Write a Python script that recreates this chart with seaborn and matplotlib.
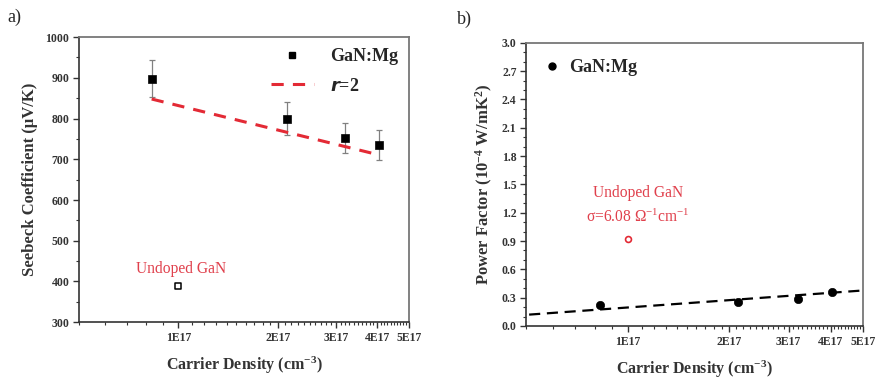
import numpy as np
import pandas as pd
import seaborn as sns
import matplotlib.pyplot as plt
from matplotlib.ticker import FixedLocator, MultipleLocator, NullFormatter
from matplotlib.lines import Line2D

# data
density = [8.3e16, 2.13e17, 3.2e17, 4.05e17]
seebeck = [898, 800, 753, 735]
seebeck_err = [46, 41, 37, 37]
power_factor = [0.22, 0.255, 0.285, 0.355]

undoped_density = [1.0e17]
undoped_seebeck = [390]
undoped_pf = [0.92]

fit_a_x = [8.3e16, 3.95e17]
fit_a_y = [848, 713]
fit_b_x = [5.1e16, 4.95e17]
fit_b_y = [0.12, 0.375]

x_ticks = [1e17, 2e17, 3e17, 4e17, 5e17]
x_tick_labels = ["1E17", "2E17", "3E17", "4E17", "5E17"]

RED = "#e32a35"
TEXT_RED = "#e0404c"

sns.set_style("ticks")
plt.rcParams["font.family"] = ["Liberation Serif", "DejaVu Serif"]
plt.rcParams["font.weight"] = "bold"
plt.rcParams["axes.labelweight"] = "bold"
plt.rcParams["mathtext.default"] = "regular"
plt.rcParams["xtick.direction"] = "out"
plt.rcParams["ytick.direction"] = "out"

df = pd.DataFrame({"density": density, "seebeck": seebeck, "pf": power_factor})
fit_a = pd.DataFrame({"x": fit_a_x, "y": fit_a_y})
fit_b = pd.DataFrame({"x": fit_b_x, "y": fit_b_y})

fig = plt.figure(figsize=(8.8, 3.79), dpi=100)
ax_a = fig.add_axes([0.0898, 0.150, 0.375, 0.752])
ax_b = fig.add_axes([0.598, 0.140, 0.383, 0.747])


def style_axes(ax):
    ax.set_xscale("log")
    ax.set_xlim(5e16, 5e17)
    ax.xaxis.set_major_locator(FixedLocator(x_ticks))
    ax.set_xticklabels(x_tick_labels)
    ax.xaxis.set_minor_locator(FixedLocator(np.arange(5, 51) * 1e16))
    ax.xaxis.set_minor_formatter(NullFormatter())
    for side in ["left", "bottom"]:
        ax.spines[side].set_color("#333333")
        ax.spines[side].set_linewidth(1.2)
    for side in ["top", "right"]:
        ax.spines[side].set_color("#777777")
        ax.spines[side].set_linewidth(1.3)
    ax.tick_params(which="major", length=4, width=1, color="#333333",
                   labelsize=8.5, labelcolor="#333333", pad=3)
    ax.tick_params(which="minor", length=2.5, width=0.8, color="#333333")
    ax.set_xlabel("Carrier Density (cm$^{-3}$)", fontsize=11.5,
                  fontweight="bold", color="#333333", labelpad=8)


# panel a
ax_a.errorbar(density, seebeck, yerr=seebeck_err, fmt="none",
              ecolor="#808080", elinewidth=0.9, capsize=2, capthick=0.9)
sns.lineplot(data=fit_a, x="x", y="y", ax=ax_a, color=RED, lw=2.2,
             dashes=False, linestyle=(0, (4, 3)))
sns.scatterplot(data=df, x="density", y="seebeck", ax=ax_a, marker="s",
                s=36, color="black", edgecolor="black", zorder=5)
ax_a.scatter(undoped_density, undoped_seebeck, marker="s", s=14,
             facecolor="white", edgecolor="black", linewidth=1.1, zorder=5)
ax_a.text(1.02e17, 430, "Undoped GaN", color=TEXT_RED, fontsize=11.2,
          fontweight="normal", ha="center", va="center")

ax_a.set_ylim(300, 1000)
ax_a.yaxis.set_major_locator(MultipleLocator(100))
ax_a.yaxis.set_minor_locator(MultipleLocator(50))
style_axes(ax_a)
ax_a.set_ylabel("Seebeck Coefficient (μV/K)", fontsize=12,
                fontweight="bold", color="#333333", labelpad=5)

handles_a = [
    Line2D([], [], marker="s", color="black", linestyle="none", markersize=5),
    Line2D([], [], color=RED, lw=2.2, linestyle=(0, (4, 3))),
]
ax_a.legend(handles_a, ["GaN:Mg", "$\\it{r}$=2"], loc="upper right",
            frameon=False, handlelength=2.4, handletextpad=0.9,
            labelspacing=0.7, borderaxespad=0.2,
            prop={"size": 13, "weight": "bold"})

# panel b
sns.lineplot(data=fit_b, x="x", y="y", ax=ax_b, color="black", lw=1.6,
             dashes=False, linestyle=(0, (5, 3)))
sns.scatterplot(data=df, x="density", y="pf", ax=ax_b, marker="o",
                s=36, color="black", edgecolor="black", zorder=5)
ax_b.scatter(undoped_density, undoped_pf, marker="o", s=18,
             facecolor="white", edgecolor=RED, linewidth=1.2, zorder=5)
ax_b.text(1.07e17, 1.41, "Undoped GaN", color=TEXT_RED, fontsize=11.2,
          fontweight="normal", ha="center", va="center")
ax_b.text(1.07e17, 1.15, "σ=6.08 Ω$^{-1}$cm$^{-1}$", color=TEXT_RED,
          fontsize=11.2, fontweight="normal", ha="center", va="center")

ax_b.set_ylim(0, 3.0)
ax_b.yaxis.set_major_locator(MultipleLocator(0.3))
ax_b.yaxis.set_minor_locator(MultipleLocator(0.1))
ax_b.yaxis.set_major_formatter(plt.FuncFormatter(lambda v, p: f"{v:.1f}"))
style_axes(ax_b)
ax_b.set_ylabel("Power Factor (10$^{-4}$ W/mK$^{2}$)", fontsize=12,
                fontweight="bold", color="#333333", labelpad=5)

handles_b = [Line2D([], [], marker="o", color="black", linestyle="none",
                    markersize=5)]
ax_b.legend(handles_b, ["GaN:Mg"], loc="upper left", frameon=False,
            handlelength=1.0, handletextpad=0.5, borderaxespad=0.5,
            prop={"size": 13, "weight": "bold"})

fig.text(0.008, 0.955, "a)", fontsize=13, fontweight="normal", va="center")
fig.text(0.519, 0.950, "b)", fontsize=13, fontweight="normal", va="center")

fig.savefig("out.png", dpi=100, facecolor="white")
